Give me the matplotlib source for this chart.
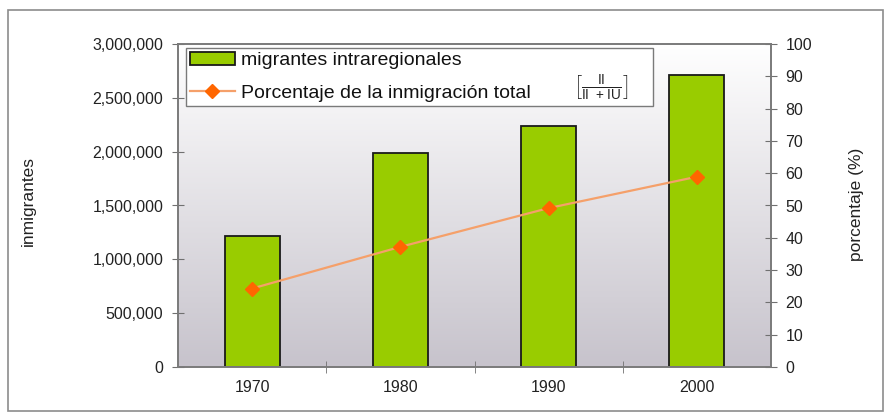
import matplotlib
matplotlib.use("Agg")
import matplotlib.pyplot as plt
import numpy as np
from matplotlib.patches import Rectangle
from matplotlib.legend_handler import HandlerPatch
from matplotlib.ticker import FuncFormatter, FixedLocator

plt.rcParams['font.family'] = ['Liberation Sans', 'DejaVu Sans']
plt.rcParams['mathtext.fontset'] = 'custom'
plt.rcParams['mathtext.rm'] = 'Liberation Sans'

years = ["1970", "1980", "1990", "2000"]
migrantes = [1220000, 1990000, 2240000, 2710000]
porcentaje = [24.3, 37.2, 49.2, 58.9]
left_ticks = [0, 500000, 1000000, 1500000, 2000000, 2500000, 3000000]
right_ticks = [0, 10, 20, 30, 40, 50, 60, 70, 80, 90, 100]

W, H = 885, 419
fig = plt.figure(figsize=(W / 100, H / 100), dpi=100)
fig.patch.set_facecolor("white")

def fx(px):
    return px / W

def fy(py):
    return 1 - py / H

# outer frame
fig.add_artist(Rectangle((fx(8), fy(411)), (883 - 8) / W, (411 - 10) / H,
                         transform=fig.transFigure, fill=False,
                         edgecolor="#8c8c8c", linewidth=1.2))

L, R, T, B = 178, 771, 44, 367
ax = fig.add_axes([fx(L), fy(B), (R - L) / W, (B - T) / H])
ax2 = ax.twinx()

x = np.arange(len(years))
ax.set_xlim(-0.5, len(years) - 0.5)
ax2.set_ylim(0, 100)

# gradient background (white at top to grey-lavender at bottom)
grad = np.linspace(0, 1, 256).reshape(-1, 1, 1)
top_c = np.array([1.0, 1.0, 1.0])
bot_c = np.array([0.78, 0.765, 0.80])
img = top_c * (1 - grad) + bot_c * grad
ax.imshow(img, extent=[-0.5, len(years) - 0.5, 0, 3000000], aspect="auto",
          origin="upper", zorder=0, interpolation="bicubic")
ax.set_ylim(0, 3000000)

bars = ax.bar(x, migrantes, width=0.37, color="#99cc00", edgecolor="#1a1a1a",
              linewidth=1.3, zorder=2, label="migrantes intraregionales")

line, = ax2.plot(x, porcentaje, color="#f5a06a", linewidth=1.6,
                 marker="D", markersize=7, markerfacecolor="#ff6600",
                 markeredgecolor="#ff6600", zorder=4,
                 label="Porcentaje de la inmigración total")

ax.set_zorder(1)
ax2.set_zorder(2)
ax.patch.set_visible(False)
ax2.patch.set_visible(False)

# ticks
ax.yaxis.set_major_locator(FixedLocator(left_ticks))
ax.yaxis.set_major_formatter(FuncFormatter(lambda v, p: f"{int(v):,}"))
ax2.yaxis.set_major_locator(FixedLocator(right_ticks))
ax.set_xticks(x)
ax.set_xticklabels(years)
ax.set_xticks([0.5, 1.5, 2.5], minor=True)

ax.tick_params(axis="x", which="major", length=0, labelsize=11.5, pad=9, colors="#222222")
ax.tick_params(axis="x", which="minor", direction="inout", length=9, color="#707070")
ax.tick_params(axis="y", direction="inout", length=9, color="#707070",
               labelsize=11.5, pad=6, labelcolor="#222222")
ax2.tick_params(axis="y", direction="inout", length=9, color="#707070",
                labelsize=11.5, pad=6, labelcolor="#222222")

for a in (ax, ax2):
    for s in a.spines.values():
        s.set_color("#7a7a7a")
        s.set_linewidth(1.2)

fig.text(fx(28), fy(201), "inmigrantes", rotation=90, ha="center", va="center",
         fontsize=12.5, color="#222222")
fig.text(fx(857), fy(204), "porcentaje (%)", rotation=90, ha="center", va="center",
         fontsize=12.5, color="#222222")


def thin_patch(legend, orig_handle, xdescent, ydescent, width, height, fontsize):
    h = height * 0.55
    return Rectangle((-xdescent, -ydescent + (height - h) / 2), width, h)


# legend box spanning pixel x 186..653, top at y 48
lx0, lx1, ly0, ly1 = 186, 653, 48, 105
ax_w, ax_h = R - L, B - T
bbox = ((lx0 - L) / ax_w, 1 - (ly1 - T) / ax_h, (lx1 - lx0) / ax_w, (ly1 - ly0) / ax_h)
leg = ax2.legend([bars, line], [bars.get_label(), line.get_label()],
                 loc="upper left", bbox_to_anchor=bbox, mode="expand",
                 fontsize=14, frameon=True, fancybox=False,
                 edgecolor="#7a7a7a", facecolor="white", framealpha=1,
                 borderpad=0.2, labelspacing=0.75, handlelength=2.3,
                 handletextpad=0.35, borderaxespad=0,
                 handler_map={type(bars.patches[0]): HandlerPatch(patch_func=thin_patch)})
leg.get_frame().set_linewidth(1.0)
for t in leg.get_texts():
    t.set_color("#111111")

# fraction (II / II+IU) next to the second legend entry
fig.text(fx(601), fy(88), r"$\left[\frac{\mathrm{II}}{\mathrm{II\ +IU}}\right]$",
         ha="center", va="center", fontsize=14, color="#222222", zorder=10)

fig.savefig("out.png", dpi=100)
